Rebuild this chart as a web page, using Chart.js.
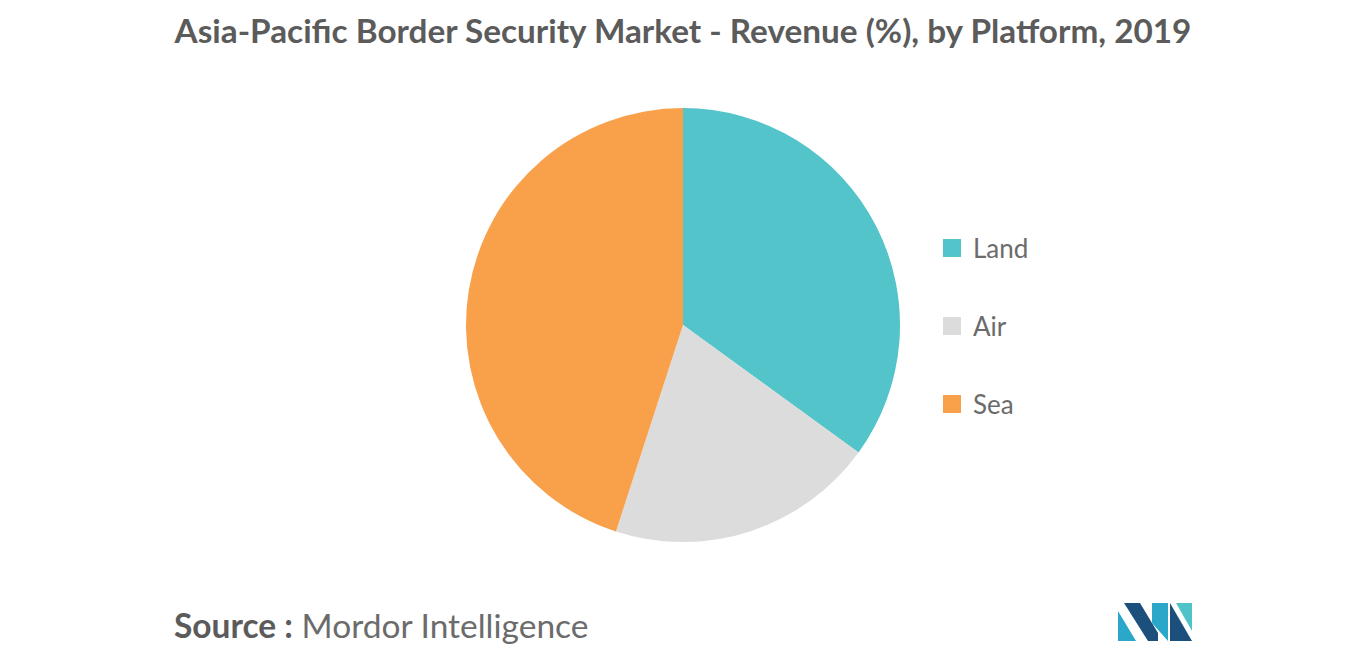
<!DOCTYPE html>
<html><head><meta charset="utf-8">
<script src="https://cdn.jsdelivr.net/npm/chart.js@4"></script>
<style>
body{margin:0;width:1366px;height:655px;background:#fff;font-family:Lato,sans-serif;position:relative;overflow:hidden}
#title{position:absolute;top:10px;left:0;width:1366px;text-align:center;font-size:33.3px;font-weight:bold;color:#5b5b5b}
#wrap{position:absolute;left:463px;top:105px;width:440px;height:440px}
#legend{position:absolute;left:943px;top:228px;font-size:26px;color:#6b6b6b}
#legend div{height:39px;margin-bottom:39px;display:flex;align-items:center}
#legend span{display:inline-block;width:18px;height:18px;margin-right:12px}
#src{position:absolute;left:174px;top:605px;font-size:33.5px;color:#6b6b6b}
#src b{color:#5b5b5b}
</style></head><body>
<div id="title">Asia-Pacific Border Security Market - Revenue (%), by Platform, 2019</div>
<div id="wrap"><canvas id="c"></canvas></div>
<div id="legend"></div>
<div id="src"><b>Source :</b> Mordor Intelligence</div>
<svg style="position:absolute;left:1118px;top:603px" width="74" height="38">
<polygon points="0,38 0,8 18,38" fill="#2aa7c9"/><polygon points="6,0 22,0 40,30 40,38 30,38" fill="#1d4f7c"/>
<polygon points="34,0 50,0 50,38 34,20" fill="#2aa7c9"/><polygon points="52,0 74,38 52,38" fill="#1d4f7c"/><polygon points="58,0 74,0 74,28" fill="#4fc3c8"/>
</svg>
<script>
const labels=["Land","Air","Sea"];
const values=[35,20,45];
const colors=["#52c4ca","#dcdcdc","#f9a04a"];
new Chart(document.getElementById('c'),{type:'pie',
data:{labels,datasets:[{data:values,backgroundColor:colors,borderWidth:0}]},
options:{responsive:true,maintainAspectRatio:false,animation:false,layout:{padding:3},
plugins:{legend:{display:false},tooltip:{enabled:false}}}});
document.getElementById('legend').innerHTML=labels.map((l,i)=>`<div><span style="background:${colors[i]}"></span>${l}</div>`).join('');
</script></body></html>
